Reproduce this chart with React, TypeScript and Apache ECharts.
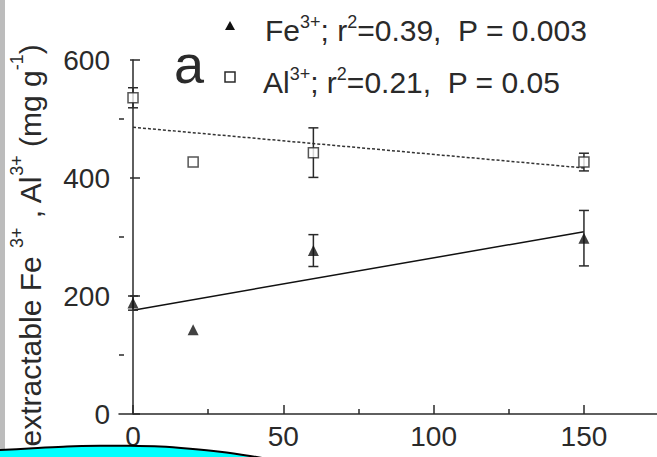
import React, { useEffect, useRef } from "react";
import * as echarts from "echarts";

const doses = [0, 20, 60, 150];
const feMean = [188, 143, 277, 298];
const feErr = [12, 0, 27, 47];
const alMean = [536, 427, 443, 427];
const alErr = [17, 0, 42, 15];
const fitX = [0, 150];
const feFit = [176, 309];
const alFit = [486, 417];
const xMajor = [0, 50, 100, 150];
const xMinor = [25, 75, 125];
const yMajorOut = [200, 400, 600];
const yMinor = [100, 300, 500];
const xMin = -4.66;
const xMax = 174.3;
const yMin = 0;
const yMax = 600;
const yStep = 200;
const feLabel = "Fe{sup|3+}; r{sup|2}=0.39,  P = 0.003";
const alLabel = "Al{sup|3+}; r{sup|2}=0.21,  P = 0.05";
const yTitle = "extractable Fe {sup|3+} , Al{sup|3+} (mg g{sup|-1})  ";
const panelLetter = "a";

const FONT = "'Liberation Sans', Arial, sans-serif";
const INK = "#2a2a2a";

// decorative cyan blob at the lower-left corner (outline points)
const blobPts: number[][] = [
  [-4, 450.5], [0, 450], [33, 448.3], [67, 446.4], [100, 445.7], [130, 445.8],
  [160, 446.6], [190, 448.8], [220, 451.8], [250, 456], [270, 459.5], [290, 464],
];

function errRender(params: any, api: any) {
  const x = api.value(0);
  const y = api.value(1);
  const e = api.value(2);
  if (!e) return null;
  const top = api.coord([x, y + e]);
  const bot = api.coord([x, y - e]);
  const hw = 5;
  const st = { stroke: INK, lineWidth: 1.5 };
  return {
    type: "group",
    children: [
      { type: "line", shape: { x1: top[0], y1: top[1], x2: bot[0], y2: bot[1] }, style: st },
      { type: "line", shape: { x1: top[0] - hw, y1: top[1], x2: top[0] + hw, y2: top[1] }, style: st },
      { type: "line", shape: { x1: bot[0] - hw, y1: bot[1], x2: bot[0] + hw, y2: bot[1] }, style: st },
    ],
  };
}

export default function App() {
  const ref = useRef<HTMLDivElement>(null);
  useEffect(() => {
    if (!ref.current) return;
    const chart = echarts.init(ref.current, undefined, { renderer: "svg" });
    const legendRich = {
      sup: { fontSize: 18, fontFamily: FONT, color: INK, fill: INK, verticalAlign: "top", lineHeight: 12 },
    };
    const nameRich = {
      sup: { fontSize: 18, fontFamily: FONT, color: INK, verticalAlign: "top", lineHeight: 12 },
    };
    const baseX = {
      type: "value",
      min: xMin,
      max: xMax,
      position: "bottom",
      splitLine: { show: false },
    };
    const baseY = {
      type: "value",
      min: yMin,
      max: yMax,
      position: "left",
      splitLine: { show: false },
    };
    chart.setOption({
      animation: false,
      backgroundColor: "#ffffff",
      grid: { left: 119, right: 0, top: 60, bottom: 43, containLabel: false },
      xAxis: [
        {
          ...baseX,
          axisLine: { show: true, lineStyle: { color: INK, width: 1.5 } },
          axisTick: { show: true, inside: true, length: 9, customValues: xMajor, lineStyle: { color: INK, width: 1.5 } },
          axisLabel: { show: true, customValues: xMajor, margin: 8, fontSize: 28, fontFamily: FONT, color: INK },
        },
        {
          ...baseX,
          axisLine: { show: false },
          axisTick: { show: true, inside: true, length: 5, customValues: xMinor, lineStyle: { color: INK, width: 1.5 } },
          axisLabel: { show: false },
        },
      ],
      yAxis: [
        {
          ...baseY,
          interval: yStep,
          axisLine: { show: true, lineStyle: { color: INK, width: 1.5 } },
          axisTick: { show: true, inside: true, length: 7, lineStyle: { color: INK, width: 1.5 } },
          axisLabel: { show: true, margin: 9, fontSize: 28, fontFamily: FONT, color: INK },
          name: yTitle,
          nameLocation: "middle",
          nameGap: 63,
          nameRotate: 90,
          nameTextStyle: { fontSize: 30, fontFamily: FONT, color: INK, lineHeight: 44, rich: nameRich },
        },
        {
          ...baseY,
          axisLine: { show: false },
          axisTick: { show: true, inside: false, length: 3, customValues: yMajorOut, lineStyle: { color: INK, width: 1.5 } },
          axisLabel: { show: false },
        },
        {
          ...baseY,
          axisLine: { show: false },
          axisTick: { show: true, inside: true, length: 5, customValues: yMinor, lineStyle: { color: INK, width: 1.5 } },
          axisLabel: { show: false },
        },
      ],
      series: [
        {
          name: "Fe fit",
          type: "line",
          data: fitX.map((x, i) => [x, feFit[i]]),
          symbol: "none",
          lineStyle: { color: "#111", width: 1.5 },
          z: 2,
        },
        {
          name: "Al fit",
          type: "line",
          data: fitX.map((x, i) => [x, alFit[i]]),
          symbol: "none",
          lineStyle: { color: "#333", width: 1.5, type: [3, 2] },
          z: 2,
        },
        {
          name: "Fe err",
          type: "custom",
          renderItem: errRender,
          encode: { x: 0, y: 1 },
          data: doses.map((d, i) => [d, feMean[i], feErr[i]]),
          z: 3,
        },
        {
          name: "Al err",
          type: "custom",
          renderItem: errRender,
          encode: { x: 0, y: 1 },
          data: doses.map((d, i) => [d, alMean[i], alErr[i]]),
          z: 3,
        },
        {
          name: "Fe3+",
          type: "scatter",
          symbol: "triangle",
          symbolSize: 11,
          data: doses.map((d, i) => [d, feMean[i]]),
          itemStyle: { color: "#111" },
          z: 5,
        },
        {
          name: "Al3+",
          type: "scatter",
          symbol: "rect",
          symbolSize: 10,
          data: doses.map((d, i) => [d, alMean[i]]),
          itemStyle: { color: "#ffffff", borderColor: INK, borderWidth: 1.5 },
          z: 5,
        },
      ],
      graphic: [
        { type: "rect", shape: { x: 0, y: 0, width: 5, height: 457 }, style: { fill: "#bcbcbc" }, z: 10 },
        {
          type: "text",
          x: 174,
          y: 64,
          style: { text: panelLetter, fontSize: 54, fontFamily: FONT, fill: INK, align: "left", verticalAlign: "middle" },
          z: 10,
        },
        { type: "polygon", shape: { points: [[225, 30], [235, 30], [230, 21]] }, style: { fill: "#111" }, z: 10 },
        { type: "rect", shape: { x: 225, y: 72, width: 10, height: 10 }, style: { fill: "#fff", stroke: INK, lineWidth: 1.5 }, z: 10 },
        {
          type: "text",
          x: 265,
          y: 30,
          style: { text: feLabel, fontSize: 30, fontFamily: FONT, fill: INK, lineHeight: 34, align: "left", verticalAlign: "middle", rich: legendRich },
          z: 10,
        },
        {
          type: "text",
          x: 263,
          y: 82,
          style: { text: alLabel, fontSize: 30, fontFamily: FONT, fill: INK, lineHeight: 34, align: "left", verticalAlign: "middle", rich: legendRich },
          z: 10,
        },
        {
          type: "polygon",
          shape: { points: [...blobPts, [290, 520], [-4, 520]] },
          style: { fill: "#00ffff" },
          z: 20,
        },
        {
          type: "polyline",
          shape: { points: blobPts, smooth: 0.3 },
          style: { stroke: "#000", lineWidth: 2, fill: "none" },
          z: 21,
        },
      ],
    });
    return () => chart.dispose();
  }, []);
  return <div ref={ref} style={{ position: "fixed", left: 0, top: 0, width: 657, height: 457 }} />;
}
